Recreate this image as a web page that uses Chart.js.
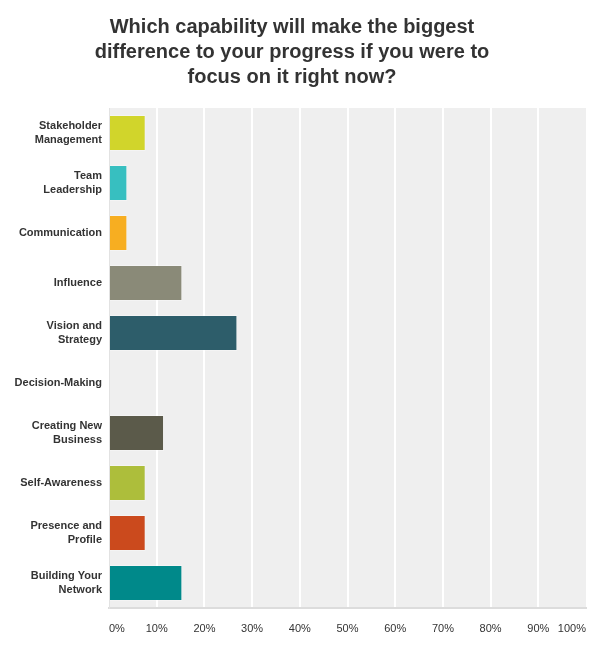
<!DOCTYPE html>
<html>
<head>
<meta charset="utf-8">
<script src="https://cdn.jsdelivr.net/npm/chart.js@4/dist/chart.umd.min.js"></script>
<style>
  html, body { margin: 0; padding: 0; background: #fff; }
  #wrap { width: 600px; height: 650px; }
</style>
</head>
<body>
<div id="wrap"><canvas id="chart" width="600" height="650"></canvas></div>
<script>
const titleLines = ['Which capability will make the biggest', 'difference to your progress if you were to', 'focus on it right now?']
const categories = [
  ['Stakeholder', 'Management'],
  ['Team', 'Leadership'],
  'Communication',
  'Influence',
  ['Vision and', 'Strategy'],
  'Decision-Making',
  ['Creating New', 'Business'],
  'Self-Awareness',
  ['Presence and', 'Profile'],
  ['Building Your', 'Network']
]
// percent of respondents
const percents = [7.69, 3.85, 3.85, 15.38, 26.92, 0, 11.54, 7.69, 7.69, 15.38]
const barColors = ['#d1d52b', '#37bfc0', '#f7ae21', '#8a8a78', '#2d5d6a', '#999999', '#5b5a4a', '#adbe3b', '#cb4a1d', '#00898a']
const tickValues = [0, 10, 20, 30, 40, 50, 60, 70, 80, 90, 100]

const font = '"Liberation Sans", Arial, sans-serif'

// grey plot background + nudge title a bit left like the original
const plotBg = {
  id: 'plotBg',
  afterLayout(chart) {
    if (chart.titleBlock) chart.titleBlock.right -= 6
  },
  beforeDraw(chart) {
    const a = chart.chartArea
    const ctx = chart.ctx
    ctx.save()
    ctx.fillStyle = '#efefef'
    ctx.fillRect(a.left, a.top, a.right - a.left, a.bottom - a.top)
    ctx.restore()
  }
}

new Chart(document.getElementById('chart').getContext('2d'), {
  type: 'bar',
  data: {
    labels: categories,
    datasets: [{
      data: percents,
      backgroundColor: barColors,
      borderColor: 'rgba(255,255,255,0.35)',
      borderWidth: 1,
      categoryPercentage: 0.8,
      barPercentage: 0.9
    }]
  },
  options: {
    responsive: false,
    animation: false,
    indexAxis: 'y',
    layout: { padding: { left: 0, right: 10, top: 0, bottom: 0 } },
    plugins: {
      legend: { display: false },
      tooltip: { enabled: false },
      title: {
        display: true,
        text: titleLines,
        color: '#333',
        font: { family: font, size: 20, weight: 'bold', lineHeight: 25 / 20 },
        padding: { top: 15, bottom: 18 }
      }
    },
    scales: {
      x: {
        min: 0,
        max: 100,
        afterFit: (s) => { s.height = 42 },
        afterBuildTicks: (s) => { s.ticks = tickValues.map(v => ({ value: v })) },
        grid: {
          drawTicks: false,
          lineWidth: 2,
          color: (c) => (c.index === 0 || c.index === 10) ? 'rgba(0,0,0,0)' : '#ffffff'
        },
        border: { color: '#dcdcdc', width: 2 },
        ticks: {
          align: 'inner',
          padding: 14,
          color: '#333',
          font: { family: font, size: 11 },
          callback: (v) => v + '%'
        }
      },
      y: {
        afterFit: (s) => { s.width = 109 },
        grid: { display: false, drawTicks: false },
        border: { color: '#e2e2e2', width: 1 },
        ticks: {
          padding: 7,
          color: '#333',
          font: { family: font, size: 11, weight: 'bold', lineHeight: 14 / 11 }
        }
      }
    }
  },
  plugins: [plotBg]
})
</script>
</body>
</html>
